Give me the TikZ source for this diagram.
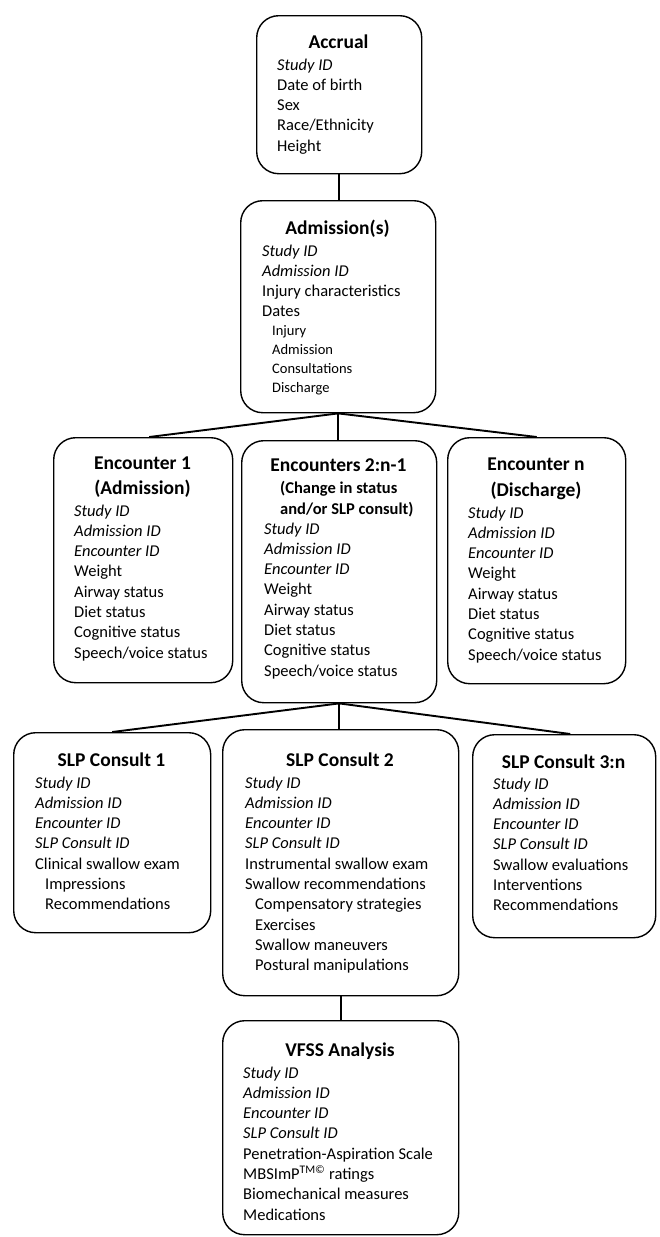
\documentclass[tikz,border=0pt]{standalone}
\usepackage{fontspec}
\setmainfont{Carlito}
\usetikzlibrary{calc}
\newcommand{\subit}[1]{\hspace*{10pt}#1}
\newcommand{\bodyfont}{\fontsize{16.5}{20.3}\selectfont}
\tikzset{
  x=1pt, y=-1pt,
  box/.style={draw, line width=1.4pt, rounded corners=22pt, inner sep=0pt, anchor=north west},
  ttl/.style={font=\bfseries\fontsize{19.5}{22}\selectfont, anchor=base, inner sep=0pt},
  subttl/.style={font=\bfseries\fontsize{16.5}{21}\selectfont, anchor=base west, inner sep=0pt},
  bdy/.style={font=\bodyfont, anchor=base west, inner sep=0pt},
  link/.style={line width=1.9pt}
}
\newcommand{\boxbody}[1]{\renewcommand{\arraystretch}{1}\begin{tabular}[t]{@{}l@{}}#1\end{tabular}}
\begin{document}
\begin{tikzpicture}
\useasboundingbox (0,0) rectangle (660,1237);
% Accrual
\node[box, minimum width=165pt, minimum height=158pt] (acc) at (256,15) {};
\node[ttl] (accT) at (338.5,48) {Accrual};
\node[bdy] (accB) at (277,70) {\boxbody{\itshape Study ID\\ Date of birth\\ Sex\\ Race/Ethnicity\\ Height}};
% Admission
\node[box, minimum width=195pt, minimum height=212pt] (adm) at (240,200) {};
\node[ttl] (admT) at (337.5,234) {Admission(s)};
\node[bdy] (admB) at (262,256) {\boxbody{\itshape Study ID\\ \itshape Admission ID\\ Injury characteristics\\ Dates\\[-1.5pt]
 \fontsize{14.5}{18}\selectfont\subit{Injury}\\[-1.5pt] \fontsize{14.5}{18}\selectfont\subit{Admission}\\[-1.5pt] \fontsize{14.5}{18}\selectfont\subit{Consultations}\\[-1.5pt] \fontsize{14.5}{18}\selectfont\subit{Discharge}}};
% Encounter 1
\node[box, minimum width=179pt, minimum height=245pt] (e1) at (53,437) {};
\node[ttl] (e1T) at (142.5,469) {Encounter 1};
\node[ttl] (e1T2) at (142.5,494) {(Admission)};
\node[bdy] (e1B) at (74,516) {\boxbody{\itshape Study ID\\ \itshape Admission ID\\ \itshape Encounter ID\\ Weight\\ Airway status\\ Diet status\\ Cognitive status\\ Speech/voice status}};
% Encounters 2:n-1
\node[box, minimum width=195pt, minimum height=262pt] (e2) at (241,440) {};
\node[ttl] (e2T) at (338.5,471) {Encounters 2:n-1};
\node[subttl] (e2T2) at (280,493) {(Change in status};
\node[subttl] (e2T3) at (280,514) {and/or SLP consult)};
\node[bdy] (e2B) at (264,534) {\boxbody{\itshape Study ID\\ \itshape Admission ID\\ \itshape Encounter ID\\ Weight\\ Airway status\\ Diet status\\ Cognitive status\\ Speech/voice status}};
% Encounter n
\node[box, minimum width=178pt, minimum height=246pt] (en) at (447,437) {};
\node[ttl] (enT) at (536,470) {Encounter n};
\node[ttl] (enT2) at (536,496) {(Discharge)};
\node[bdy] (enB) at (468,518) {\boxbody{\itshape Study ID\\ \itshape Admission ID\\ \itshape Encounter ID\\ Weight\\ Airway status\\ Diet status\\ Cognitive status\\ Speech/voice status}};
% SLP Consult 1
\node[box, minimum width=197pt, minimum height=200pt] (s1) at (13,732) {};
\node[ttl] (s1T) at (111.5,766) {SLP Consult 1};
\node[bdy] (s1B) at (35,788) {\boxbody{\itshape Study ID\\ \itshape Admission ID\\ \itshape Encounter ID\\ \itshape SLP Consult ID\\ Clinical swallow exam\\ \subit{Impressions}\\ \subit{Recommendations}}};
% SLP Consult 2
\node[box, minimum width=236pt, minimum height=266pt] (s2) at (222,729) {};
\node[ttl] (s2T) at (340,766) {SLP Consult 2};
\node[bdy] (s2B) at (245,788) {\boxbody{\itshape Study ID\\ \itshape Admission ID\\ \itshape Encounter ID\\ \itshape SLP Consult ID\\ Instrumental swallow exam\\ Swallow recommendations\\ \subit{Compensatory strategies}\\ \subit{Exercises}\\ \subit{Swallow maneuvers}\\ \subit{Postural manipulations}}};
% SLP Consult 3:n
\node[box, minimum width=183pt, minimum height=203pt] (s3) at (472,734) {};
\node[ttl] (s3T) at (563.5,768) {SLP Consult 3:n};
\node[bdy] (s3B) at (493,789) {\boxbody{\itshape Study ID\\ \itshape Admission ID\\ \itshape Encounter ID\\ \itshape SLP Consult ID\\ Swallow evaluations\\ Interventions\\ Recommendations}};
% VFSS Analysis
\node[box, minimum width=236pt, minimum height=214pt] (vf) at (222,1020) {};
\node[ttl] (vfT) at (340,1056) {VFSS Analysis};
\node[bdy] (vfB) at (243,1078) {\boxbody{\itshape Study ID\\ \itshape Admission ID\\ \itshape Encounter ID\\ \itshape SLP Consult ID\\ Penetration-Aspiration Scale\\ MBSImP\textsuperscript{TM©} ratings\\ Biomechanical measures\\ Medications}};
% connectors
\draw[link] (acc.south) -- (acc.south |- adm.north);
\draw[link] (adm.south) -- ([xshift=6pt]e1.north);
\draw[link] (adm.south) -- (adm.south |- e2.north);
\draw[link] (adm.south) -- (en.north);
\draw[link] (e2.south) -- (s1.north);
\draw[link] (e2.south) -- (e2.south |- s2.north);
\draw[link] (e2.south) -- ([xshift=6pt]s3.north);
\draw[link] (s2.south) -- (s2.south |- vf.north);
\end{tikzpicture}
\end{document}
